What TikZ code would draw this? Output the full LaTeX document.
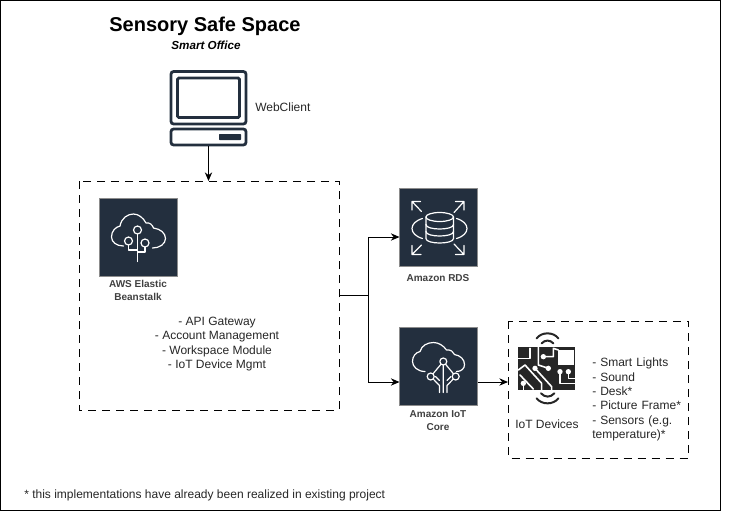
\documentclass[tikz,border=0pt]{standalone}
\usepackage{fontspec}
\setmainfont{Liberation Sans}
\usetikzlibrary{arrows.meta, positioning}
\definecolor{awsdark}{HTML}{232F3E}

\begin{document}
\begin{tikzpicture}[x=0.75pt, y=-0.75pt]
\tikzset{
    awsbox/.style={shape=rectangle, draw=black!45, line width=.4pt, fill=awsdark, minimum size=58.5pt, inner sep=0pt},
    awslabel/.style={align=center, font=\fontsize{7.5}{10}\selectfont\bfseries, text=black!75, inner sep=0pt},
    dashbox/.style={draw, line width=.75pt, dash pattern=on 6pt off 4.5pt},
    plain/.style={align=left, font=\fontsize{9}{10.9}\selectfont, text=black!85, inner sep=0pt},
    flow/.style={draw, line width=.75pt, -{Stealth[length=6.5pt,width=5.5pt]}},
    ico/.style={draw=white, line width=.9pt, line cap=round, line join=round},
    trace/.style={draw=white, line width=1.2pt, line cap=round, line join=round},
    wave/.style={draw=black!85, line width=1.5pt, line cap=round},
    screen/.style={draw=awsdark, line width=2.1pt, rounded corners=2pt}
}
\useasboundingbox (0,0) rectangle (731,512);
\draw[line width=.75pt] (0,0.5) rectangle (720.5,510.5);

% titles
\node[font=\fontsize{15}{18}\selectfont\bfseries, inner sep=0pt] (title) at (205,26.5) {Sensory Safe Space};
\node[font=\fontsize{8.75}{10}\selectfont\bfseries\itshape, inner sep=0pt] (subtitle) at (206,45) {Smart Office};

% web client
\draw[screen] (171,71.5) rectangle (246,124);
\draw[screen, rounded corners=1pt] (177.5,78) rectangle (239.5,117.5);
\draw[screen] (171,129) rectangle (246,145);
\fill[awsdark, rounded corners=.5pt] (219,134) rectangle (241,140);
\coordinate (client) at (208.5,146);
\node[plain, anchor=west] (weblabel) at (255,107) {WebClient};

% dashed boxes
\draw[dashbox] (79,181) rectangle (339,410);
\coordinate (maintop) at (208.5,181);
\coordinate (mainright) at (339,295);
\coordinate (split) at (368,295);
\draw[dashbox] (508.5,321) rectangle (688.5,458);
\coordinate (devleft) at (508,382);

% aws services
\node[awsbox] (eb) at (138.5,237) {};
\node[awslabel, anchor=north] (eblabel) at (138,280) {AWS Elastic\\Beanstalk};
\node[awsbox] (rds) at (438.5,227.5) {};
\node[awslabel, anchor=north] (rdslabel) at (438,274) {Amazon RDS};
\node[awsbox] (iot) at (438.5,366.5) {};
\node[awslabel, anchor=north] (iotlabel) at (438,410.5) {Amazon IoT\\Core};
\coordinate (rdsin) at (399.5,237);
\coordinate (iotin) at (399.5,382);
\coordinate (iotout) at (477.5,382);

% beanstalk icon
\begin{scope}[shift={(138.5,237)}]
    \draw[ico] (-15,9) .. controls (-22,9) and (-27,5) .. (-27,0) .. controls (-27,-6) and (-23,-10) .. (-18.5,-11)
        .. controls (-17,-19) and (-11,-23) .. (-5,-23) .. controls (0,-23) and (5,-19) .. (7.5,-14)
        .. controls (11,-15) and (14,-12) .. (15,-9) .. controls (22,-8) and (27,-4) .. (27,1.5) .. controls (27,7) and (21,11) .. (14,11);
    \draw[ico] (-1,-7) circle (4);
    \draw[ico] (-10,4) circle (4);
    \draw[ico] (6.5,6) circle (4);
    \draw[ico] (-1,-3) -- (-1,24.5);
    \draw[ico] (6.5,10) -- (6.5,15) -- (-1,15);
    \draw[ico] (-10,8) -- (-10,13) -- (-1,13);
\end{scope}

% rds icon
\begin{scope}[shift={(438.5,227.5)}]
    \draw[ico] (1.2,-10.5) ellipse (13.8 and 4.5);
    \draw[ico] (-12.6,-10.5) -- (-12.6,11) .. controls (-12.6,17) and (15,17) .. (15,11) -- (15,-10.5);
    \draw[ico] (-12.6,-3) .. controls (-12.6,3) and (15,3) .. (15,-3);
    \draw[ico] (-12.6,4) .. controls (-12.6,10) and (15,10) .. (15,4);
    \draw[ico] (-16,-9) .. controls (-30,-5) and (-30,7) .. (-16,11);
    \draw[ico] (18,-9) .. controls (32,-5) and (32,7) .. (18,11);
    \draw[ico] (-18,-26) -- (-26.5,-26) -- (-26.5,-17.5) (-26.5,-26) -- (-17,-16);
    \draw[ico] (17,-26) -- (25.5,-26) -- (25.5,-17.5) (25.5,-26) -- (15.5,-15);
    \draw[ico] (-17.5,27) -- (-26.5,27) -- (-26.5,18) (-26.5,27) -- (-17,17.5);
    \draw[ico] (17,27) -- (25.5,27) -- (25.5,18) (25.5,27) -- (15.5,16.5);
\end{scope}

% iot core icon
\begin{scope}[shift={(438.5,366.5)}]
    \draw[ico] (-13.5,5) .. controls (-21,5) and (-26,0) .. (-26,-5) .. controls (-26,-10) and (-23,-14) .. (-18.5,-15)
        .. controls (-17,-21) and (-11,-24) .. (-5,-24) .. controls (0,-24) and (5,-21) .. (8,-16.5)
        .. controls (12,-17) and (15,-15) .. (16,-12) .. controls (22,-11) and (26,-7) .. (26,-2) .. controls (26,2) and (23,5) .. (18,5);
    \draw[ico] (4.8,-5) -- (-7.8,10) (4.8,-5) -- (17.2,10);
    \draw[ico] (-7.8,10) -- (1,19) -- (1,26) (17.2,10) -- (8.5,19) -- (8.5,26) (4.8,-5) -- (4.8,26);
    \draw[ico] (-3,10) -- (1,14) (12.5,10) -- (8.5,14);
    \draw[ico, fill=awsdark] (4.8,-5) circle (3.5);
    \draw[ico, fill=awsdark] (-7.8,10) circle (3.5);
    \draw[ico, fill=awsdark] (17.2,10) circle (3.5);
\end{scope}

% iot device icon
\begin{scope}[shift={(505,315)}, x=0.25pt, y=-0.25pt]
    \fill[black!85] (40,97) rectangle (210,225);
    \fill[white] (160,105) rectangle (207,150);
    \draw[trace] (40,130) -- (75,130) -- (75,100);
    \draw[trace] (100,97) -- (100,150) -- (130,160);
    \draw[trace] (115,125) -- (145,125) -- (145,100) -- (160,105);
    \draw[trace] (40,165) -- (60,150) -- (110,205) -- (110,225);
    \draw[trace] (45,180) -- (85,222);
    \draw[trace] (90,160) -- (140,215) -- (140,225);
    \draw[trace] (165,170) -- (165,205) -- (210,205);
    \draw[trace] (190,170) -- (190,190) -- (210,190);
    \draw[trace] (55,210) -- (55,225);
    \fill[white] (115,125) circle (8) (130,160) circle (8) (90,160) circle (8) (165,170) circle (8) (190,170) circle (8) (55,205) circle (8);
    \draw[wave] (95,70) .. controls (110,50) and (145,50) .. (160,70);
    \draw[wave] (110,85) .. controls (120,74) and (135,74) .. (145,85);
    \draw[wave] (108,235) .. controls (120,248) and (136,248) .. (148,235);
    \draw[wave] (95,250) .. controls (110,270) and (145,270) .. (160,250);
\end{scope}

% lists
\node[plain, anchor=center, align=center] (features) at (217,344) {- API Gateway\\- Account Management\\- Workspace Module\\- IoT Device Mgmt};
\node[plain, anchor=center] (devlabel) at (547,424) {IoT Devices};
\node[plain, anchor=north west, text width=90pt, font=\fontsize{9}{10.7}\selectfont] (devices) at (592,358) {- Smart Lights\\- Sound\\- Desk*\\- Picture Frame*\\- Sensors (e.g.\\temperature)*};
\node[plain, anchor=west] (footnote) at (24,495) {* this implementations have already been realized in existing project};

% connectors
\draw[flow] (client) -- (maintop);
\draw[flow] (mainright) -- (split) |- (rdsin);
\draw[flow] (split) |- (iotin);
\draw[flow] (iotout) -- (devleft);
\end{tikzpicture}
\end{document}
